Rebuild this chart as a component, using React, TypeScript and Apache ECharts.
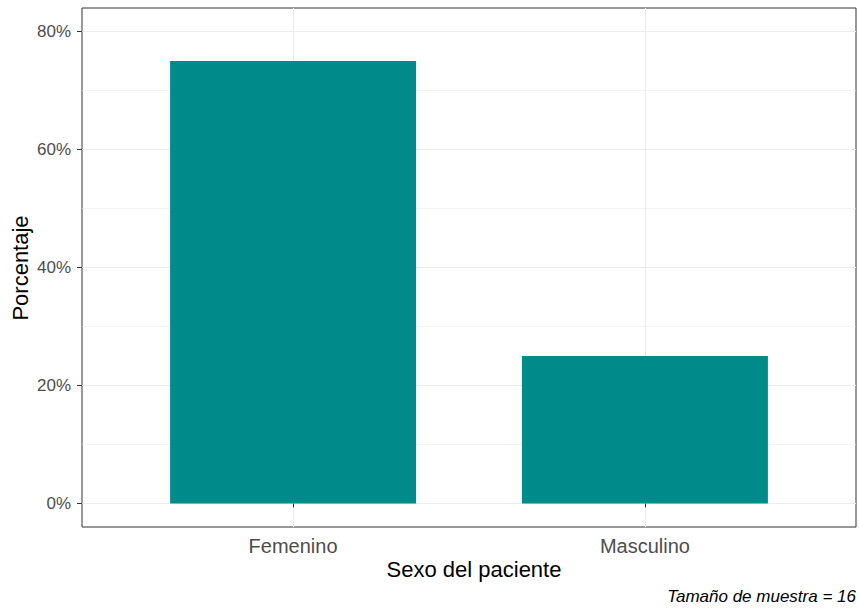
import React, { useEffect, useRef } from "react";
import * as echarts from "echarts";

const categories = ["Femenino", "Masculino"];
const percentages = [75, 25];
const yTickValues = [0, 20, 40, 60, 80];
const yMinorValues = [10, 30, 50, 70];
const xTitle = "Sexo del paciente";
const yTitle = "Porcentaje";
const caption = "Tamaño de muestra = 16";

const FONT = "'Liberation Sans', Arial, sans-serif";

export default function App() {
  const ref = useRef<HTMLDivElement>(null);
  useEffect(() => {
    if (!ref.current) return;
    const chart = echarts.init(ref.current, undefined, { renderer: "svg" });
    const catPositions = categories.map((_, i) => i + 1);
    const option: any = {
      animation: false,
      backgroundColor: "#ffffff",
      textStyle: { fontFamily: FONT },
      grid: {
        left: 82,
        top: 8,
        width: 774,
        height: 519,
        show: true,
        borderColor: "#333333",
        borderWidth: 1,
        backgroundColor: "#ffffff",
        containLabel: false,
      },
      xAxis: {
        type: "value",
        min: 0.4,
        max: 2.6,
        axisLine: { show: false },
        axisTick: {
          show: true,
          customValues: catPositions,
          length: 4,
          lineStyle: { color: "#333333", width: 1 },
        },
        axisLabel: {
          customValues: catPositions,
          formatter: (v: number) => categories[Math.round(v) - 1] ?? "",
          color: "#4D4D4D",
          fontSize: 20,
          fontFamily: FONT,
          margin: 9,
        },
        splitLine: { show: true, lineStyle: { color: "#EBEBEB", width: 1 } },
      },
      yAxis: [
        {
          type: "value",
          min: -4,
          max: 84,
          position: "left",
          axisLine: { show: false },
          axisTick: {
            show: true,
            customValues: yTickValues,
            length: 5,
            lineStyle: { color: "#333333", width: 1 },
          },
          axisLabel: {
            customValues: yTickValues,
            formatter: (v: number) => `${v}%`,
            color: "#4D4D4D",
            fontSize: 17,
            fontFamily: FONT,
            margin: 11,
          },
          splitLine: { show: true, lineStyle: { color: "#EBEBEB", width: 1 } },
        },
        {
          type: "value",
          min: -4,
          max: 84,
          position: "left",
          axisLine: { show: false },
          axisTick: { show: false, customValues: yMinorValues },
          axisLabel: { show: false, customValues: yMinorValues },
          splitLine: { show: true, lineStyle: { color: "#EBEBEB", width: 0.6 } },
        },
      ],
      series: [
        {
          type: "bar",
          xAxisIndex: 0,
          yAxisIndex: 0,
          data: percentages.map((v, i) => [catPositions[i], v]),
          barWidth: 246,
          itemStyle: { color: "#008B8B" },
          emphasis: { disabled: true },
          z: 3,
        },
      ],
      graphic: [
        {
          type: "text",
          x: 474,
          y: 569.7,
          style: {
            text: xTitle,
            fill: "#000000",
            font: `22px ${FONT}`,
            align: "center",
            verticalAlign: "middle",
          },
        },
        {
          type: "text",
          x: 20,
          y: 268,
          rotation: Math.PI / 2,
          style: {
            text: yTitle,
            fill: "#000000",
            font: `22px ${FONT}`,
            align: "center",
            verticalAlign: "middle",
          },
        },
        {
          type: "text",
          x: 856,
          y: 596.4,
          style: {
            text: caption,
            fill: "#000000",
            font: `italic 17px ${FONT}`,
            align: "right",
            verticalAlign: "middle",
          },
        },
      ],
    };
    chart.setOption(option);
    return () => chart.dispose();
  }, []);
  return (
    <div
      ref={ref}
      style={{ position: "fixed", left: 0, top: 0, width: 859, height: 609 }}
    />
  );
}
